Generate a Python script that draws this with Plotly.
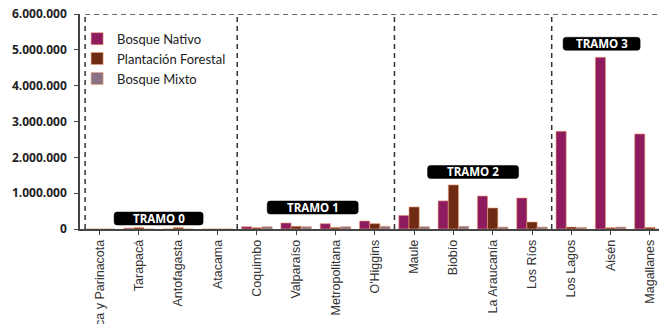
import plotly.graph_objects as go

regions = ["Arica y Parinacota", "Tarapacá", "Antofagasta", "Atacama", "Coquimbo",
           "Valparaíso", "Metropolitana", "O'Higgins", "Maule", "Biobío",
           "La Araucanía", "Los Ríos", "Los Lagos", "Aisén", "Magallanes"]
bosque_nativo = [0, 25000, 0, 0, 65000, 168000, 150000, 224000, 380000, 785000,
                 920000, 866000, 2726000, 4793000, 2654000]
plantacion_forestal = [0, 40000, 40000, 0, 37000, 75000, 45000, 150000, 615000, 1230000,
                       587000, 195000, 55000, 37000, 45000]
bosque_mixto = [0, 0, 0, 0, 65000, 65000, 65000, 75000, 65000, 75000,
                55000, 55000, 45000, 55000, 0]
series_names = ["Bosque Nativo", "Plantación Forestal", "Bosque Mixto"]
series_colors = ["#8E1B5E", "#6E2A12", "#887284"]
tramo_labels = ["TRAMO 0", "TRAMO 1", "TRAMO 2", "TRAMO 3"]
tramo_x = [1.5, 5.42, 9.5, 12.77]
tramo_y = [293000, 600000, 1592000, 5168000]
tramo_w = [89, 91, 91, 77]
tramo_bounds = [-0.37, 3.5, 7.5, 11.5]

fig = go.Figure()
for name, vals, col in zip(series_names, [bosque_nativo, plantacion_forestal, bosque_mixto], series_colors):
    fig.add_trace(go.Bar(
        x=list(range(len(regions))), y=vals, name=name,
        marker=dict(color=col, line=dict(color="#EFA27A", width=0.6)),
    ))

# dashed tramo boxes
for xb in tramo_bounds:
    fig.add_shape(type="line", x0=xb, x1=xb, y0=0, y1=6000000, xref="x", yref="y",
                  line=dict(color="#333333", width=1.5, dash="5px,4px"), layer="above")
fig.add_shape(type="line", xref="paper", yref="y",
              x0=(tramo_bounds[0] + 0.5) / 14.73, x1=1, y0=6000000, y1=6000000,
              line=dict(color="#333333", width=1.5, dash="5px,4px"), layer="above")

# tramo labels: rounded black boxes
for lab, tx, ty, w in zip(tramo_labels, tramo_x, tramo_y, tramo_w):
    h = 13
    r = 3
    hw, hh = w / 2, h / 2
    path = (f"M{-hw + r},{-hh} L{hw - r},{-hh} Q{hw},{-hh} {hw},{-hh + r} "
            f"L{hw},{hh - r} Q{hw},{hh} {hw - r},{hh} L{-hw + r},{hh} "
            f"Q{-hw},{hh} {-hw},{hh - r} L{-hw},{-hh + r} Q{-hw},{-hh} {-hw + r},{-hh} Z")
    fig.add_shape(type="path", xref="x", yref="y", xsizemode="pixel", ysizemode="pixel",
                  xanchor=tx, yanchor=ty, path=path, fillcolor="#000000",
                  line=dict(color="#000000", width=0.5), layer="above")
    fig.add_annotation(x=tx, y=ty, xref="x", yref="y", text=lab, showarrow=False,
                       font=dict(family="Open Sans", size=11.5, color="white", weight="bold"),
                       xanchor="center", yanchor="middle")

fig.update_layout(
    width=659, height=324,
    margin=dict(l=80, r=0, t=14, b=95),
    paper_bgcolor="white", plot_bgcolor="white",
    barmode="group", bargap=0.22, bargroupgap=0,
    separators=",.",
    showlegend=True,
    legend=dict(x=-0.005, y=0.955, xanchor="left", yanchor="top",
                font=dict(family="Lato", size=13, color="#222222"),
                bgcolor="rgba(0,0,0,0)", itemwidth=30, tracegroupgap=0),
    xaxis=dict(
        range=[-0.5, 14.23], tickmode="array", tickvals=list(range(len(regions))),
        ticktext=regions, tickangle=-90, ticks="outside", ticklen=4,
        tickcolor="#444444", tickson="boundaries",
        showline=True, linecolor="#444444", linewidth=1.5,
        showgrid=False, zeroline=False, automargin=False,
        tickfont=dict(family="Liberation Sans", size=12.5, color="#333333"),
    ),
    yaxis=dict(
        range=[0, 6000000], tickvals=[0, 1000000, 2000000, 3000000, 4000000, 5000000, 6000000],
        tickformat=",d", ticks="outside", ticklen=4, tickcolor="#444444",
        showline=True, linecolor="#444444", linewidth=1.5,
        showgrid=False, zeroline=False, automargin=False,
        tickfont=dict(family="Open Sans", size=12, color="#222222", weight="bold"),
        ticklabelstandoff=5,
    ),
)

fig.write_html("out.html")
